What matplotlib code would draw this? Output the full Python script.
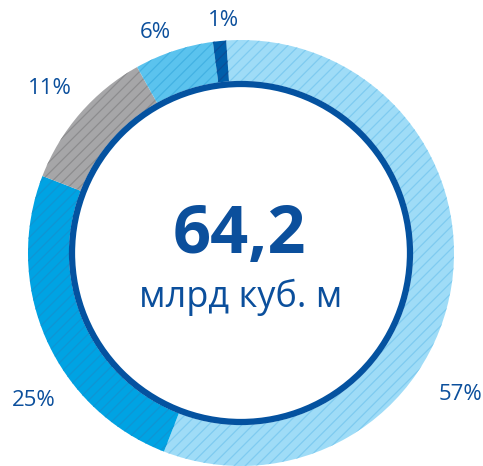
import matplotlib
matplotlib.use("Agg")
import matplotlib.pyplot as plt
from matplotlib.patches import Circle

# Structure of the total volume, %
shares = [57, 25, 11, 6, 1]
fill_colors = ["#9fdcf7", "#00a3e3", "#a6a6a8", "#5bc3ee", "#005eaa"]
hatch_colors = ["#7fcbf0", "#0f95d4", "#8c8c8e", "#43b2e3", "#0b4e98"]
total_value = "64,2"
total_unit = "млрд куб. м"

# label anchor points (pixel coordinates, origin bottom-left)
label_xy = [(460, 71), (34, 66), (50, 377), (155, 433), (224, 446)]

W, H = 483, 466
text_color = "#0b4f9c"
plt.rcParams["font.family"] = ["Open Sans", "DejaVu Sans"]
plt.rcParams["hatch.linewidth"] = 0.9

fig = plt.figure(figsize=(W / 100, H / 100), dpi=100)
ax = fig.add_axes([0, 0, 1, 1])

cx, cy = 241, 213
r_out = 213
ring_w = 41

wedges, _ = ax.pie(
    shares,
    colors=fill_colors,
    startangle=94,
    counterclock=False,
    radius=r_out,
    center=(cx, cy),
    wedgeprops=dict(width=ring_w, linewidth=0),
    frame=True,
)
for w, hc in zip(wedges, hatch_colors):
    w.set_hatch("///")
    w.set_edgecolor(hc)
    w.set_linewidth(0)

# inner rim
ax.add_patch(Circle((cx, cy), r_out - ring_w - 3, fill=False,
                    edgecolor="#0452a0", linewidth=4.5, zorder=3))

ax.text(cx - 2, cy + 17, total_value, ha="center", va="center",
        fontsize=48, fontweight="bold", color=text_color)
ax.text(cx, cy - 44, total_unit, ha="center", va="center",
        fontsize=26, color=text_color)

for v, (x, y) in zip(shares, label_xy):
    ax.text(x, y, f"{v}%", ha="center", va="center",
            fontsize=16, color=text_color)

ax.set_xlim(0, W)
ax.set_ylim(0, H)
ax.set_aspect("equal")
ax.axis("off")

fig.savefig("out.png", dpi=100)
